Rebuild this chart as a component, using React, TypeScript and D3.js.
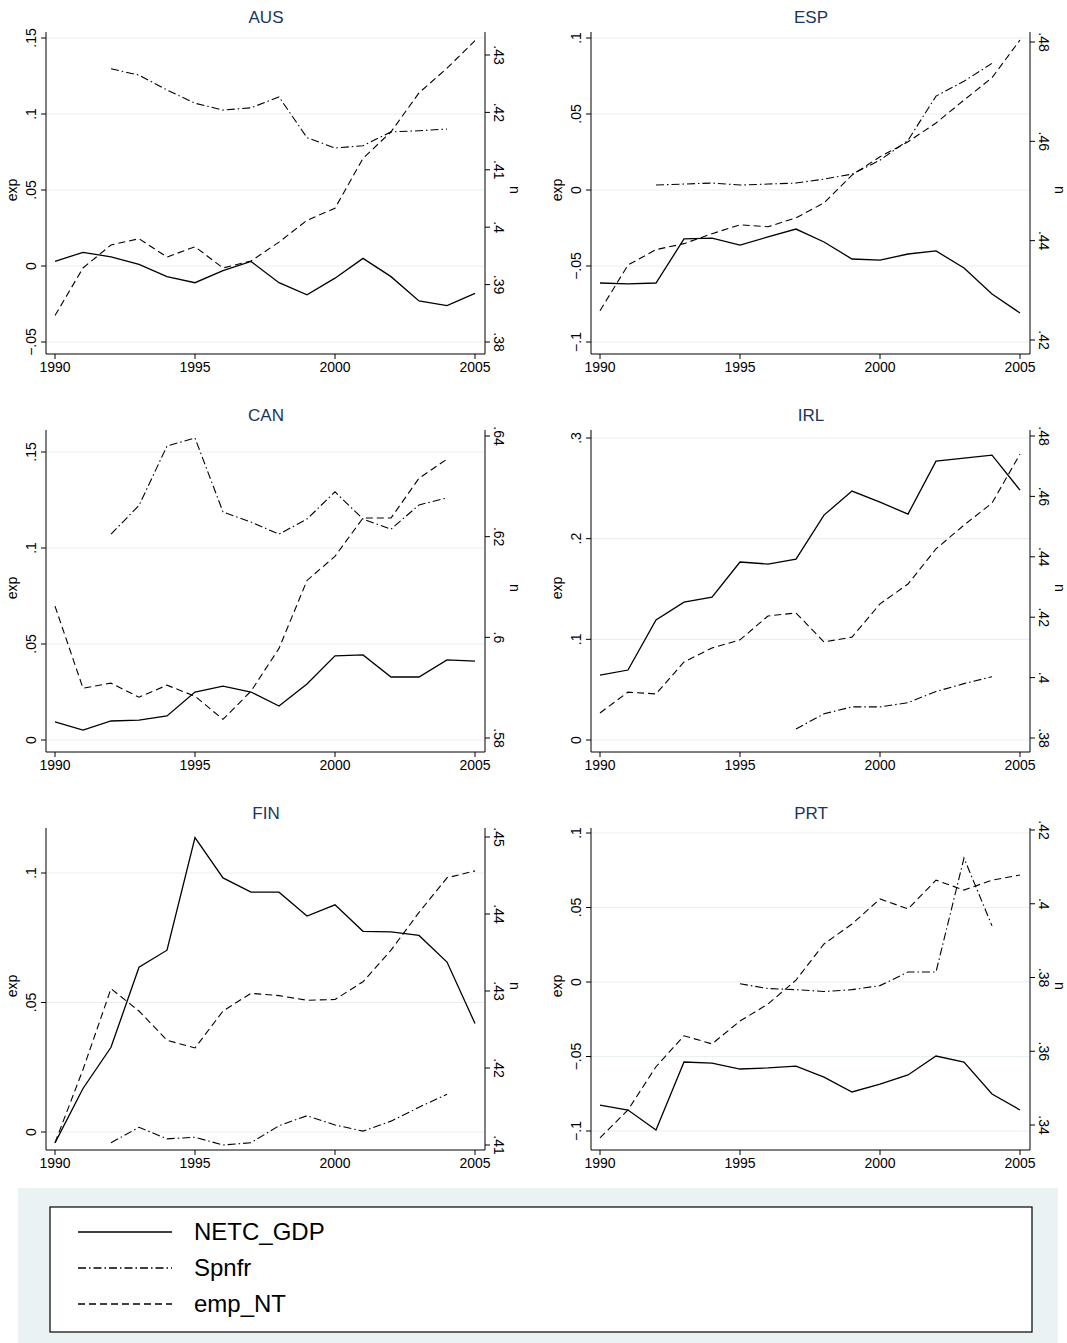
import * as d3 from 'd3'

const years = d3.range(1990, 2006)

const countries = ['AUS', 'ESP', 'CAN', 'IRL', 'FIN', 'PRT']

// NETC_GDP (left axis), 1990-2005
const netcAUS = [.003, .009, .006, .001, -.007, -.011, -.003, .003, -.011, -.019, -.008, .005, -.007, -.023, -.026, -.018]
const netcESP = [-.0612, -.0618, -.0612, -.0322, -.0316, -.0362, -.0309, -.0257, -.0342, -.0454, -.0461, -.0421, -.0401, -.0513, -.0684, -.0809]
const netcCAN = [.0094, .0052, .0099, .0104, .0125, .0250, .0281, .0250, .0177, .0292, .0438, .0443, .0328, .0328, .0417, .0411]
const netcIRL = [.0645, .0695, .1192, .1370, .1420, .1768, .1748, .1797, .2234, .2473, .2363, .2244, .2770, .2800, .2830, .2482]
const netcFIN = [-.0042, .0168, .0327, .0636, .0702, .1137, .0981, .0926, .0926, .0834, .0877, .0775, .0773, .0759, .0656, .0419]
const netcPRT = [-.0826, -.0859, -.0993, -.0537, -.0544, -.0584, -.0577, -.0564, -.0638, -.0738, -.0685, -.0624, -.0497, -.0537, -.0752, -.0859]

// Spnfr (right axis), start year + values
const spnfrStart = [1992, 1992, 1992, 1997, 1992, 1995]
const spnfrAUS = [.4276, .4265, .4239, .4216, .4204, .4208, .4227, .4156, .4138, .4142, .4166, .4168, .4171]
const spnfrESP = [.4512, .4514, .4516, .4512, .4514, .4516, .4524, .4534, .4562, .4602, .4691, .4721, .4757]
const spnfrCAN = [.6205, .6262, .6380, .6396, .6249, .6229, .6205, .6235, .6289, .6235, .6215, .6263, .6277]
const spnfrIRL = [.3830, .3880, .3903, .3903, .3917, .3954, .3980, .4003]
const spnfrFIN = [.4103, .4123, .4108, .4110, .4100, .4103, .4125, .4138, .4126, .4118, .4131, .4149, .4166]
const spnfrPRT = [.3783, .3770, .3767, .3762, .3767, .3778, .3815, .3815, .4124, .3940]

// emp_NT (right axis), from 1990
const empAUS = [.3846, .3929, .3969, .3980, .3948, .3966, .3929, .3941, .3974, .4012, .4033, .4120, .4166, .4234, .4277, .4325]
const empESP = [.4259, .4351, .4382, .4394, .4414, .4432, .4428, .4446, .4476, .4532, .4569, .4599, .4637, .4683, .4728, .4804]
const empCAN = [.6062, .5899, .5909, .5881, .5905, .5883, .5837, .5893, .5978, .6113, .6161, .6237, .6237, .6316, .6354]
const empIRL = [.3883, .3952, .3946, .4052, .4098, .4125, .4204, .4214, .4118, .4134, .4244, .4310, .4426, .4505, .4578, .4740]
const empFIN = [.4103, .4198, .4303, .4274, .4236, .4226, .4274, .4297, .4294, .4288, .4289, .4312, .4353, .4402, .4447, .4456]
const empPRT = [.3365, .3441, .3558, .3642, .3620, .3682, .3728, .3793, .3891, .3945, .4013, .3986, .4064, .4037, .4064, .4078]

const netc = [netcAUS, netcESP, netcCAN, netcIRL, netcFIN, netcPRT]
const spnfr = [spnfrAUS, spnfrESP, spnfrCAN, spnfrIRL, spnfrFIN, spnfrPRT]
const emp = [empAUS, empESP, empCAN, empIRL, empFIN, empPRT]

const leftTicks = [
  [-.05, 0, .05, .1, .15], [-.1, -.05, 0, .05, .1], [0, .05, .1, .15],
  [0, .1, .2, .3], [0, .05, .1], [-.1, -.05, 0, .05, .1],
]
const rightTicks = [
  [.38, .39, .40, .41, .42, .43], [.42, .44, .46, .48], [.58, .60, .62, .64],
  [.38, .40, .42, .44, .46, .48], [.41, .42, .43, .44, .45], [.34, .36, .38, .40, .42],
]
const xTicks = [1990, 1995, 2000, 2005]
const legendLabels = ['NETC_GDP', 'Spnfr', 'emp_NT']

// pixel rows (relative to panel) of first/last tick
const leftPix = [[342, 38], [342, 38], [342, 54], [342, 40], [336, 77], [335, 37]]
const rightPix = [[342, 55], [340, 42], [340, 38], [340, 38], [349, 41], [329, 34]]

const dashes = [null, '8,3,1.5,3', '7,4']
const FONT = '"Liberation Sans", Arial, sans-serif'

function fmt(v: number) {
  if (Math.abs(v) < 1e-9) return '0'
  const s = d3.format('.2~f')(Math.abs(v)).replace(/^0/, '')
  return (v < 0 ? '\u2212' : '') + s
}

function Panel({ i }: { i: number }) {
  const ox = (i % 2) * 545, oy = Math.floor(i / 2) * 398
  const x = d3.scaleLinear([1990, 2005], [55, 475])
  const lt = leftTicks[i], rt = rightTicks[i]
  const yl = d3.scaleLinear([lt[0], lt[lt.length - 1]], leftPix[i])
  const yr = d3.scaleLinear([rt[0], rt[rt.length - 1]], rightPix[i])
  const line = d3.line<[number, number]>()
  const s1 = line(netc[i].map((v, k) => [x(years[k]), yl(v)]))
  const s2 = line(spnfr[i].map((v, k) => [x(spnfrStart[i] + k), yr(v)]))
  const s3 = line(emp[i].map((v, k) => [x(years[k]), yr(v)]))
  const L = 46, R = 485, B = 354, T = 32
  return (
    <g transform={`translate(${ox},${oy})`} fontFamily={FONT}>
      <text x={266} y={23} textAnchor="middle" fontSize={17} fill="#1a3560">{countries[i]}</text>
      {lt.map(t => (
        <g key={'l' + t}>
          <line x1={L} x2={R} y1={yl(t)} y2={yl(t)} stroke="#e8f0f1" strokeWidth={1.2} />
          <line x1={L - 5} x2={L} y1={yl(t)} y2={yl(t)} stroke="#000" />
          <text transform={`translate(36,${yl(t)}) rotate(-90)`} textAnchor="middle" fontSize={14}>{fmt(t)}</text>
        </g>
      ))}
      {rt.map(t => (
        <g key={'r' + t}>
          <line x1={R} x2={R + 5} y1={yr(t)} y2={yr(t)} stroke="#000" />
          <text transform={`translate(494,${yr(t)}) rotate(90)`} textAnchor="middle" fontSize={14}>{fmt(t)}</text>
        </g>
      ))}
      {xTicks.map(t => (
        <g key={'x' + t}>
          <line x1={x(t)} x2={x(t)} y1={B} y2={B + 5} stroke="#000" />
          <text x={x(t)} y={372} textAnchor="middle" fontSize={14}>{t}</text>
        </g>
      ))}
      <line x1={L} x2={L} y1={T} y2={B} stroke="#000" />
      <line x1={R} x2={R} y1={T} y2={B} stroke="#000" />
      <line x1={L} x2={R} y1={B} y2={B} stroke="#000" />
      <text transform={`translate(17,190) rotate(-90)`} textAnchor="middle" fontSize={14}>exp</text>
      <text transform={`translate(510,190) rotate(90)`} textAnchor="middle" fontSize={14}>n</text>
      <path d={s1 ?? ''} fill="none" stroke="#000" strokeWidth={1.3} />
      <path d={s2 ?? ''} fill="none" stroke="#000" strokeWidth={1.1} strokeDasharray={dashes[1]!} />
      <path d={s3 ?? ''} fill="none" stroke="#000" strokeWidth={1.1} strokeDasharray={dashes[2]!} />
    </g>
  )
}

export default function App() {
  return (
    <svg width={1067} height={1343} style={{ display: 'block', position: 'absolute', left: 0, top: 0, background: '#fff' }}>
      {countries.map((_, i) => <Panel key={i} i={i} />)}
      <rect x={18} y={1188} width={1040} height={155} fill="#eaf2f3" />
      <rect x={50} y={1207} width={982} height={125} fill="#fff" stroke="#000" strokeWidth={1.2} />
      {legendLabels.map((l, k) => (
        <g key={l} transform={`translate(0,${1232 + k * 36})`}>
          <line x1={78} x2={172} y1={0} y2={0} stroke="#000" strokeWidth={1.5}
            strokeDasharray={dashes[k] ?? undefined} />
          <text x={194} y={8} fontSize={24} fontFamily={FONT}>{l}</text>
        </g>
      ))}
    </svg>
  )
}
